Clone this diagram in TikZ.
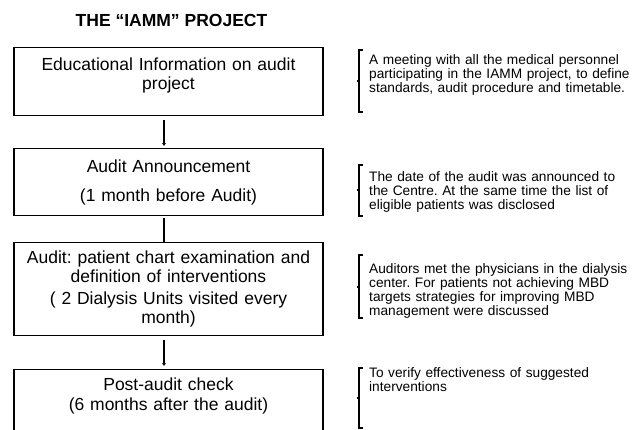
\documentclass[tikz,border=0pt]{standalone}
\usepackage{fontspec}
\setmainfont{Liberation Sans}
\usetikzlibrary{arrows.meta,positioning}
\frenchspacing

\tikzset{
  stagebox/.style={draw, line width=1.3pt, text width=293pt, inner xsep=8pt,
    align=center, font=\fontsize{17.5}{19}\selectfont},
  notetext/.style={anchor=base west, text width=265pt, align=left, inner sep=0pt,
    font=\fontsize{13.7}{14}\selectfont},
  flow/.style={line width=2pt, -{Latex[length=3pt,width=4.5pt]}},
  bracket/.style={line width=1.6pt},
}

\begin{document}
\begin{tikzpicture}[x=1pt, y=-1pt]
  \useasboundingbox (0,0) rectangle (638,429);

  % title
  \node[font=\fontsize{17.5}{19}\selectfont\bfseries, anchor=base] (title) at (171.5,26) {THE “IAMM” PROJECT};

  % the four stages
  \node[stagebox, anchor=north, inner ysep=10pt, text height=13pt, text depth=35pt] (edu) at (168.5,47)
    {Educational Information on audit\\project};
  \node[stagebox, anchor=north, minimum height=67pt] (announce) at (168.5,148)
    {Audit Announcement\\[10pt](1 month before Audit)};
  \node[stagebox, anchor=north, minimum height=93pt] (audit) at (168.5,242)
    {Audit: patient chart examination and\\definition of interventions\\[3pt]( 2 Dialysis Units visited every\\month)};
  \node[stagebox, anchor=north, inner ysep=8pt, text height=13pt, text depth=60pt] (check) at (168.5,369)
    {Post-audit check\\[1pt](6 months after the audit)};

  % connectors between stages
  \draw[flow, shorten <=4pt, shorten >=2pt] ([xshift=-4.5pt]edu.south) -- ([xshift=-4.5pt]announce.north);
  \draw[line width=2pt, shorten <=2pt] ([xshift=-4.5pt]announce.south) -- ([xshift=-4.5pt]audit.north);
  \draw[flow, shorten <=4pt, shorten >=3pt] ([xshift=-4.5pt]audit.south) -- ([xshift=-4.5pt]check.north);

  % notes on the right
  \node[notetext] (noteEdu) at (369,64)
    {A meeting with all the medical personnel\\participating in the IAMM project, to define\\standards, audit procedure and timetable.};
  \node[notetext] (noteAnnounce) at (369,181)
    {The date of the audit was announced to\\the Centre. At the same time the list of\\eligible patients was disclosed};
  \node[notetext] (noteAudit) at (369,273)
    {Auditors met the physicians in the dialysis\\center. For patients not achieving MBD\\targets strategies for improving MBD\\management were discussed};
  \node[notetext] (noteCheck) at (369,377)
    {To verify effectiveness of suggested\\interventions};

  % brackets in front of the notes
  \foreach \ytop/\ybot/\ymid in {50/112/81, 165/216/190, 255/318/287, 368/428/398}{
    \draw[bracket] (363,\ytop) -- (359,\ytop) -- (359,\ybot) -- (363,\ybot);
    \draw[bracket] (359,\ymid) -- (356.5,\ymid);
  }
\end{tikzpicture}
\end{document}
